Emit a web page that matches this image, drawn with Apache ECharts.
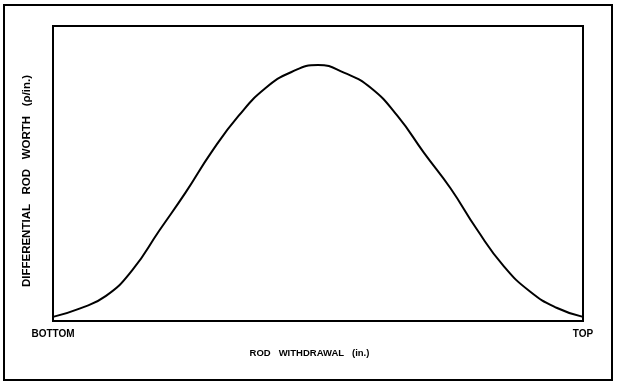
<!DOCTYPE html>
<html>
<head>
<meta charset="utf-8">
<script src="https://cdn.jsdelivr.net/npm/echarts@6/dist/echarts.min.js"></script>
<style>html,body{margin:0;padding:0;background:#fff}#c{width:619px;height:385px}</style>
</head>
<body>
<div id="c"></div>
<script>
// Rod withdrawal position (% of travel, bottom -> top)
const withdrawal = [0, 5, 10, 15, 20, 25, 30, 35, 40, 45, 50, 55, 60, 65, 70, 75, 80, 85, 90, 95, 100];
// Differential rod worth (relative units)
const worth = [1.4, 4.2, 8.5, 17.3, 30.5, 43.5, 57.5, 69.5, 78.8, 84.4, 86.8, 84.1, 79.0, 69.5, 57.0, 45.0, 31.0, 18.7, 10.0, 4.5, 1.4];
const xTickLabels = ['BOTTOM', 'TOP'];
const xName = 'ROD   WITHDRAWAL   (in.)';
const yName = 'DIFFERENTIAL   ROD   WORTH   (ρ/in.)';

const chart = echarts.init(document.getElementById('c'), null, {renderer: 'canvas'});
const font = 'Liberation Sans';
chart.setOption({
  animation: false,
  backgroundColor: '#fff',
  graphic: [{
    type: 'rect',
    shape: {x: 4, y: 5, width: 608, height: 375},
    style: {fill: 'none', stroke: '#000', lineWidth: 2},
    z: 10
  }],
  grid: {
    left: 53, top: 26, right: 36, bottom: 64,
    show: true, borderColor: '#000', borderWidth: 2, backgroundColor: '#fff'
  },
  xAxis: {
    type: 'value', min: 0, max: 100, interval: 100,
    name: xName, nameLocation: 'middle', nameGap: 27,
    nameTextStyle: {fontFamily: font, fontSize: 9.5, fontWeight: 'bold', color: '#000', padding: [0, 17, 0, 0]},
    axisLine: {show: false}, axisTick: {show: false}, splitLine: {show: false},
    axisLabel: {
      margin: 8, color: '#000', fontFamily: font, fontSize: 10, fontWeight: 'bold',
      formatter: v => v === 0 ? xTickLabels[0] : (v === 100 ? xTickLabels[1] : '')
    }
  },
  yAxis: {
    type: 'value', min: 0, max: 100,
    name: yName, nameLocation: 'middle', nameGap: 20,
    nameTextStyle: {fontFamily: font, fontSize: 11.5, fontWeight: 'bold', color: '#000', padding: [0, 15, 0, 0]},
    axisLine: {show: false}, axisTick: {show: false}, splitLine: {show: false},
    axisLabel: {show: false}
  },
  series: [{
    type: 'line',
    data: withdrawal.map((x, i) => [x, worth[i]]),
    smooth: 0.5,
    showSymbol: false,
    lineStyle: {color: '#000', width: 2}
  }]
});
</script>
</body>
</html>
